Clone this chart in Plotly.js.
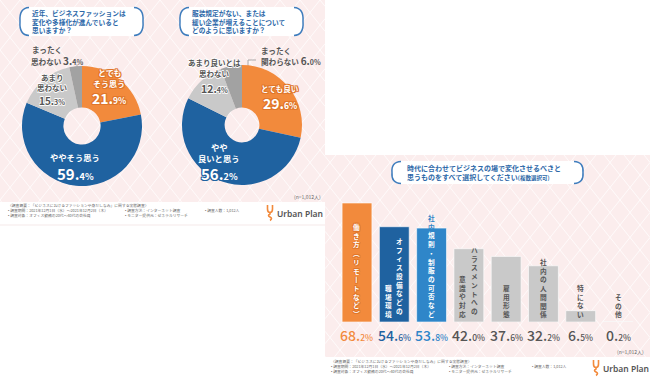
<!DOCTYPE html>
<html><head><meta charset="utf-8">
<script src="https://cdn.plot.ly/plotly-3.0.1.min.js"></script>
<style>html,body{margin:0;padding:0;background:#fff;}</style>
</head><body><div id="chart" style="width:650px;height:380px;"></div>
<script>
// ---------- data ----------
const q1Title = ['近年、ビジネスファッションは','変化や多様化が進んでいると','思いますか？'];
const q1Labels = ['とても<br>そう思う','ややそう思う','あまり<br>思わない','まったく<br>思わない'];
const q1Values = [21.9, 59.4, 15.3, 3.4];

const q2Title = ['服装規定がない、または','緩い企業が増えることについて','どのように思いますか？'];
const q2Labels = ['とても良い','やや<br>良いと思う','あまり良いとは<br>思わない','まったく<br>関わらない'];
const q2Values = [29.6, 56.2, 12.4, 6.0];

const q3Title = ['時代に合わせてビジネスの場で変化させるべきと','思うものをすべて選択してください'];
const q3TitleNote = '(複数選択可)';
const q3Categories = ['働き方（リモートなど）','オフィス設備などの<br>職場環境','社内規則・制服の可否など','ハラスメントへの<br>意識や対応','雇用形態','社内の人間関係','特にない','その他'];
const q3Values = [68.2, 54.6, 53.8, 42.0, 37.6, 32.2, 6.5, 0.2];

const sampleNote = '(n=1,012人)';
const surveyLines = [
  ['〈調査概要：「ビジネスにおけるファッションや身だしなみ」に関する実態調査〉'],
  ['• 調査期間：2021年12月1日（水）〜2021年12月2日（木）','• 調査方法：インターネット調査','• 調査人数：1,012人'],
  ['• 調査対象：オフィス勤務の20代〜40代の会社員','• モニター提供元：ゼネラルリサーチ']
];
const brand = 'Urban Plan';

// ---------- styles ----------
const W=650,H=380;
const X=p=>p/W, Y=p=>1-p/H;
const FONT='"Noto Sans CJK JP","Noto Sans",sans-serif';
const ORANGE='#f28a3c', BLUE='#1f62a0', MBLUE='#2f86c9', LGRAY='#c9c9c9', DGRAY='#a2a2a2';
const TITLEC='#2d68a8', TXT='#555555', PINK='#fbeded';
const shapes=[], ann=[];

function outline(c,w){w=w||1;const o=[];[[w,0],[-w,0],[0,w],[0,-w],[w,w],[-w,-w],[w,-w],[-w,w]].forEach(p=>o.push(c+' '+p[0]+'px '+p[1]+'px 0'));return o.join(', ');}
function rect(x0,y0,x1,y1,fill){shapes.push({type:'rect',xref:'paper',yref:'paper',x0:X(x0),x1:X(x1),y0:Y(y1),y1:Y(y0),fillcolor:fill,line:{width:0},layer:'below'});}
function seg(x0,y0,x1,y1,color,w){shapes.push({type:'line',xref:'paper',yref:'paper',x0:X(x0),y0:Y(y0),x1:X(x1),y1:Y(y1),line:{color:color,width:w},layer:'below'});}
function P(cmds){return cmds.map(c=>{let s=c[0];for(let i=1;i<c.length;i+=2){s+=' '+X(c[i]).toFixed(5)+','+Y(c[i+1]).toFixed(5);}return s;}).join(' ');}
function pathShape(cmds,opts){shapes.push(Object.assign({type:'path',xref:'paper',yref:'paper',path:P(cmds),line:{width:0},layer:'below'},opts));}
function txt(x,y,text,size,color,o){o=o||{};const f={family:o.family||FONT,size:size,color:color,weight:o.weight||400};
  if(o.shadow) f.shadow=o.shadow;
  ann.push({xref:'paper',yref:'paper',x:X(x),y:Y(y),text:text,showarrow:false,borderpad:0,align:o.align||'center',
  font:f,xanchor:o.xa||'center',yanchor:o.ya||'middle'});}

function lattice(x0,y0,x1,y1){
  const k=1.25, d=25;
  [k,-k].forEach(s=>{
    for(let c=-2000;c<2000;c+=d){
      let xa=(y0-c)/s, xb=(y1-c)/s;
      let lo=Math.max(x0,Math.min(xa,xb)), hi=Math.min(x1,Math.max(xa,xb));
      if(hi-lo>0.5) seg(lo,c+s*lo,hi,c+s*hi,'rgba(255,255,255,0.95)',0.8);
    }
  });
}
function pill(x0,y0,x1,y1){
  const r=8, ym=(y0+y1)/2;
  pathShape([['M',x0+r,y0],['L',x1-r,y0],['Q',x1,y0,x1,ym],['Q',x1,y1,x1-r,y1],['L',x0+r,y1],['Q',x0,y1,x0,ym],['Q',x0,y0,x0+r,y0],['Z']],{fillcolor:'#ffffff'});
  pathShape([['M',x0+r+1,y0+0.5],['Q',x0-1,y0+1,x0,ym],['Q',x0-1,y1-1,x0+r+1,y1-0.5]],{line:{color:'#3f7dbd',width:1.5},fillcolor:'rgba(0,0,0,0)'});
  pathShape([['M',x1-r-1,y0+0.5],['Q',x1+1,y0+1,x1,ym],['Q',x1+1,y1-1,x1-r-1,y1-0.5]],{line:{color:'#3f7dbd',width:1.5},fillcolor:'rgba(0,0,0,0)'});
}
function pct(v,big,small,color,x,y,o){
  const s=v.toFixed(1).split('.');
  txt(x,y,s[0]+'.<span style="font-size:'+small+'px">'+s[1]+'%</span>',big,color,o);
}
function logo(dx,dy){
  pathShape([['M',267.5+dx,205+dy],['L',267.5+dx,209+dy],['Q',267.5+dx,212.5+dy,270+dx,212.5+dy],['Q',272.5+dx,212.5+dy,272.5+dx,209+dy],['L',272.5+dx,205+dy]],{line:{color:ORANGE,width:1.6},fillcolor:'rgba(0,0,0,0)',layer:'above'});
  pathShape([['M',270+dx,212.5+dy],['L',270+dx,214+dy],['Q',267+dx,215.5+dy,270+dx,217+dy],['Q',273+dx,218.5+dy,270+dx,220.5+dy]],{line:{color:ORANGE,width:1.6},fillcolor:'rgba(0,0,0,0)',layer:'above'});
  txt(276+dx,213+dy,brand,8.5,TXT,{xa:'left',family:'"Noto Sans",sans-serif',weight:600});
}
function footer(x0,ys,cols){
  surveyLines.forEach((line,i)=>line.forEach((t,j)=>txt(x0+cols[j],ys[i],t,3.8,'#666',{xa:'left'})));
}

// ---------- panel backgrounds ----------
rect(0,0,325,202,PINK); lattice(0,0,325,202);
seg(0,225,325,225,'#f3e3e3',0.8);
rect(325,155,650,357,PINK); lattice(325,155,650,357);

// ---------- titles ----------
pill(20,7,143,36); txt(31,21.8,q1Title.join('<br>'),6.7,TITLEC,{xa:'left',align:'left',weight:700});
pill(180,7,303,36); txt(191,21.8,q2Title.join('<br>'),6.7,TITLEC,{xa:'left',align:'left',weight:700});
pill(392,161,583,184);
txt(406,172.5,q3Title[0]+'<br>'+q3Title[1]+'<span style="font-size:5.5px">'+q3TitleNote+'</span>',7,TITLEC,{xa:'left',align:'left',weight:700});

// ---------- donut labels ----------
const OR_DK='#e0762a';
function labelBlock(label,value,x,ys,numY,color,fs,big,small,sh){
  const lines=label.split('<br>');
  lines.forEach((l,i)=>txt(x,ys[i],l,fs,color,{weight:700,shadow:sh}));
  pct(value,big,small,color,x,numY,{weight:600,shadow:sh});
}
labelBlock(q1Labels[0],q1Values[0],109,[72,83],98,'#fff',8,14,8.5,outline(OR_DK));
labelBlock(q1Labels[1],q1Values[1],75,[157],173,'#fff',8.3,15,9,outline(BLUE));
labelBlock(q1Labels[2],q1Values[2],52,[78,87.5],100.5,TXT,7.5,10,7,outline('rgba(255,255,255,0.8)',0.6));
(function(){const l=q1Labels[3].split('<br>');const s=q1Values[3].toFixed(1).split('.');
 txt(31,50,l[0],7.6,TXT,{xa:'left',weight:700});
 txt(30,60,l[1]+' <span style="font-size:10px">'+s[0]+'.</span><span style="font-size:7px">'+s[1]+'%</span>',7.6,TXT,{xa:'left',weight:700});
 seg(77,64,77,71,'#999',0.8);})();

labelBlock(q2Labels[0],q2Values[0],280,[89],103,'#fff',7.6,14,8.5,outline(OR_DK));
labelBlock(q2Labels[1],q2Values[1],219,[147,158],173,'#fff',8.3,15,9,outline(BLUE));
labelBlock(q2Labels[2],q2Values[2],214,[63,74],89,TXT,7.5,10.5,7,outline('rgba(255,255,255,0.8)',0.6));
(function(){const l=q2Labels[3].split('<br>');const s=q2Values[3].toFixed(1).split('.');
 txt(260,51,l[0],7.6,TXT,{xa:'left',weight:700});
 txt(260,61,l[1]+' <span style="font-size:10px">'+s[0]+'.</span><span style="font-size:7px">'+s[1]+'%</span>',7.6,TXT,{xa:'left',weight:700});
 pathShape([['M',248,75],['L',248,60],['L',256,60]],{line:{color:'#999',width:0.8},fillcolor:'rgba(0,0,0,0)'});})();

// ---------- bar labels (vertical) ----------
const barColors=[ORANGE,BLUE,MBLUE,LGRAY,LGRAY,LGRAY,LGRAY,LGRAY];
const numColors=[ORANGE,BLUE,MBLUE,TXT,TXT,TXT,TXT,TXT];
const xd0=338.35, xd1=636.65, yb=322, ypx=1.745, yRange=70;
const step=(xd1-xd0)/q3Categories.length;
const vmap={'ー':'丨','（':'︵','）':'︶'};
const VFS=6.7, LH=VFS*1.3;
q3Categories.forEach((cat,i)=>{
  const cx=xd0+(i+0.5)*step;
  const top=yb-q3Values[i]*ypx;
  const cols=cat.split('<br>');
  cols.forEach((col,j)=>{
    const two=cols.length>1;
    const x = two ? (j===0? cx+5.5 : cx-6) : cx;
    const chars=Array.from(col).map(c=>vmap[c]||c);
    const bottom = two&&j===0 ? 317 : 320;
    const n=chars.length;
    if(i<3){
      let anyAbove=false;
      const parts=chars.map((ch,k)=>{const yc=bottom-(n-k-0.5)*LH;
        if(yc<top+2){anyAbove=true;return '<span style="color:'+barColors[i]+'">'+ch+'</span>';} return ch;});
      txt(x,bottom,parts.join('<br>'),VFS,'#ffffff',{weight:700,ya:'bottom',shadow:anyAbove?undefined:outline(i===0?OR_DK:barColors[i],0.7)});
    } else {
      txt(x,bottom,chars.join('<br>'),VFS,TXT,{weight:700,ya:'bottom'});
    }
  });
  pct(q3Values[i],14,8.5,numColors[i],cx,335,{weight:500});
});

txt(322,196,sampleNote,5,'#666',{xa:'right'});
txt(645,351,sampleNote,5,'#666',{xa:'right'});
footer(7,[205.5,210.5,215.5],[0,117,197]);
footer(330,[361.5,366.5,371.5],[0,118,201]);
logo(0,0); logo(326,155);

// ---------- traces ----------
const traces=[
 {type:'pie',values:q1Values,labels:q1Labels,sort:false,direction:'clockwise',rotation:0,hole:0.31,textinfo:'none',
  marker:{colors:[ORANGE,BLUE,LGRAY,DGRAY],line:{width:0}},domain:{x:[X(22),X(142)],y:[Y(186),Y(66)]},showlegend:false,hoverinfo:'skip'},
 {type:'pie',values:q2Values,labels:q2Labels,sort:false,direction:'clockwise',rotation:0,hole:0.29,textinfo:'none',
  marker:{colors:[ORANGE,BLUE,LGRAY,DGRAY],line:{width:0}},domain:{x:[X(182),X(302)],y:[Y(185),Y(65)]},showlegend:false,hoverinfo:'skip'},
 {type:'bar',x:q3Categories,y:q3Values,marker:{color:barColors,line:{color:'rgba(255,255,255,0.6)',width:1}},hoverinfo:'skip',showlegend:false}
];
const layout={
 width:W,height:H,margin:{l:0,r:0,t:0,b:0},paper_bgcolor:'#ffffff',plot_bgcolor:'rgba(0,0,0,0)',
 bargap:0.2,showlegend:false,
 xaxis:{domain:[X(xd0),X(xd1)],showticklabels:false,showgrid:false,zeroline:false,showline:false,ticks:'',fixedrange:true},
 yaxis:{domain:[Y(yb),Y(yb-yRange*ypx)],range:[0,yRange],showticklabels:false,showgrid:false,zeroline:false,showline:false,ticks:'',fixedrange:true},
 shapes:shapes,annotations:ann
};
Plotly.newPlot('chart',traces,layout,{staticPlot:true,displayModeBar:false});
</script></body></html>
